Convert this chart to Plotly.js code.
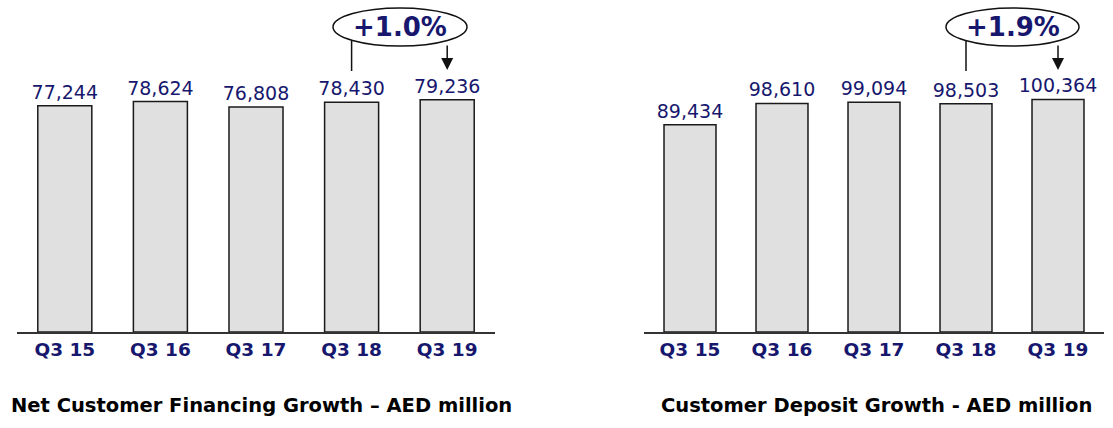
<!DOCTYPE html>
<html>
<head>
<meta charset="utf-8">
<script src="https://cdn.plot.ly/plotly-3.0.1.min.js"></script>
<style>html,body{margin:0;padding:0;background:#fff;}#chart{width:1113px;height:428px;}</style>
</head>
<body>
<div id="chart"></div>
<script>
const categories = ['Q3 15', 'Q3 16', 'Q3 17', 'Q3 18', 'Q3 19'];
const financing = [77244, 78624, 76808, 78430, 79236];
const deposits = [89434, 98610, 99094, 98503, 100364];
const chartTitles = ['Net Customer Financing Growth \u2013 AED million', 'Customer Deposit Growth - AED million'];

const W = 1113, H = 428, BASE = 332;
const navy = '#17176e';
const py = Y => (BASE - Y) / BASE; // pixel y -> paper y

function growth(arr) {
  const g = (arr[arr.length - 1] / arr[arr.length - 2] - 1) * 100;
  return (g >= 0 ? '+' : '') + g.toFixed(1) + '%';
}

const barStyle = {
  type: 'bar',
  x: categories,
  marker: {color: '#e0e0e0', line: {color: '#1a1a1a', width: 1.5}},
  texttemplate: '%{y:,}',
  textposition: 'outside',
  constraintext: 'none',
  cliponaxis: false,
  textfont: {family: 'DejaVu Sans', size: 19, color: navy},
  hoverinfo: 'skip'
};

const traces = [
  Object.assign({}, barStyle, {y: financing, xaxis: 'x', yaxis: 'y'}),
  Object.assign({}, barStyle, {y: deposits, xaxis: 'x2', yaxis: 'y2'})
];

const xBase = {
  type: 'category', showline: true, linecolor: '#333', linewidth: 1.5,
  showgrid: false, zeroline: false, ticks: '', fixedrange: true,
  tickfont: {family: 'DejaVu Sans', size: 18.5, color: navy, weight: 'bold'}
};
const yBase = {visible: false, showgrid: false, zeroline: false, fixedrange: true};

function ellipseGroup(xref, pxL, pxR, idxFrom, idxTo, arr) {
  const shapes = [
    {type: 'line', xref: xref, yref: 'paper', x0: idxFrom, x1: idxFrom, y0: py(71), y1: py(36),
     line: {color: '#111', width: 1.5}, layer: 'above'},
    {type: 'circle', xref: 'paper', yref: 'paper', x0: pxL / W, x1: pxR / W, y0: py(46), y1: py(8),
     fillcolor: 'white', line: {color: '#111', width: 1.5}, layer: 'above'}
  ];
  const anns = [
    {xref: 'paper', yref: 'paper', x: (pxL + pxR) / 2 / W, y: py(27), text: growth(arr), showarrow: false,
     xanchor: 'center', yanchor: 'middle',
     font: {family: 'DejaVu Sans', size: 26, color: navy, weight: 'bold'}},
    {xref: xref, yref: 'paper', x: idxTo, y: py(70), ax: 0, ay: -26, text: '', showarrow: true,
     arrowhead: 2, arrowsize: 1.6, arrowwidth: 1.5, arrowcolor: '#111', standoff: 0}
  ];
  return {shapes, anns};
}

const g1 = ellipseGroup('x', 333, 467, 3, 4, financing);
const g2 = ellipseGroup('x2', 946, 1079, 3, 4, deposits);

const layout = {
  width: W, height: H,
  margin: {l: 0, r: 0, t: 0, b: H - BASE},
  paper_bgcolor: '#fff', plot_bgcolor: '#fff',
  showlegend: false,
  bargap: 0.435,
  xaxis: Object.assign({}, xBase, {domain: [17 / W, 495 / W], anchor: 'y'}),
  xaxis2: Object.assign({}, xBase, {domain: [644 / W, 1104 / W], anchor: 'y2'}),
  yaxis: Object.assign({}, yBase, {range: [0, 113300], anchor: 'x'}),
  yaxis2: Object.assign({}, yBase, {range: [0, 143260], anchor: 'x2'}),
  shapes: g1.shapes.concat(g2.shapes),
  annotations: g1.anns.concat(g2.anns).concat([
    {xref: 'paper', yref: 'paper', x: 261 / W, y: py(405), text: chartTitles[0], showarrow: false,
     xanchor: 'center', yanchor: 'middle',
     font: {family: 'DejaVu Sans', size: 19.5, color: '#000', weight: 'bold'}},
    {xref: 'paper', yref: 'paper', x: 876 / W, y: py(405), text: chartTitles[1], showarrow: false,
     xanchor: 'center', yanchor: 'middle',
     font: {family: 'DejaVu Sans', size: 19.5, color: '#000', weight: 'bold'}}
  ])
};

Plotly.newPlot('chart', traces, layout, {staticPlot: true, displayModeBar: false});
</script>
</body>
</html>
